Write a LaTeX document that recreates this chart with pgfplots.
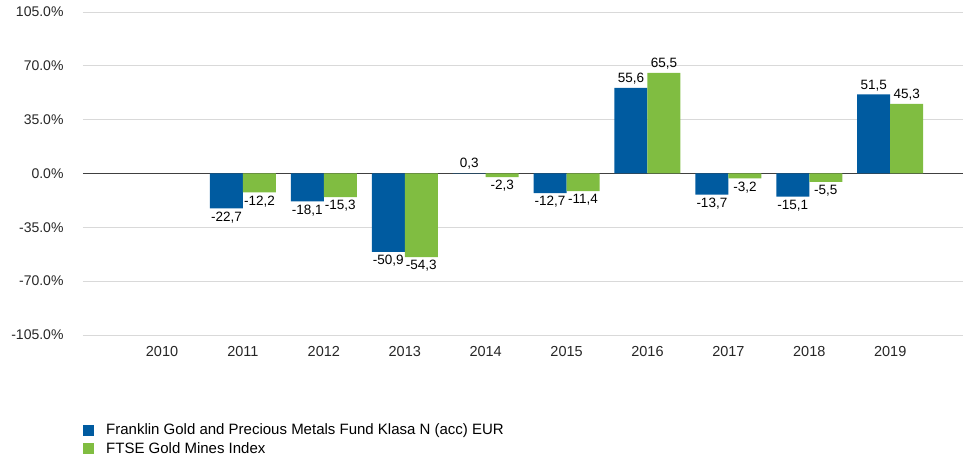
\documentclass[border=0pt]{standalone}
\usepackage{pgfplots}
\pgfplotsset{compat=1.18}
\usepackage{fontspec}
\setmainfont{Liberation Sans}
\definecolor{fblue}{RGB}{0,91,160}
\definecolor{fgreen}{RGB}{128,189,65}
\definecolor{gridgray}{RGB}{217,217,217}
\definecolor{zerogray}{RGB}{64,64,64}
\begin{document}
\begin{tikzpicture}
\begin{axis}[
  name=ax,
  scale only axis, width=880pt, height=323pt,
  ybar=0pt, bar width=33pt,
  xmin=-0.977, xmax=9.9,
  ymin=-105, ymax=105,
  xtick={0,...,9},
  xticklabels={2010,2011,2012,2013,2014,2015,2016,2017,2018,2019},
  ytick={-105,-70,-35,0,35,70,105},
  yticklabel={\pgfmathprintnumber[fixed,fixed zerofill,precision=1]{\tick}\%},
  /pgf/number format/assume math mode=true,
  ymajorgrids, grid style={gridgray, line width=0.8pt},
  axis line style={draw=none}, major tick length=0pt,
  tick label style={font=\fontsize{14}{16}\selectfont, text=black!85},
  xticklabel style={yshift=-8pt, font=\fontsize{14.5}{16}\selectfont},
  yticklabel style={xshift=-16pt},
  extra y ticks={0}, extra y tick labels={},
  extra y tick style={grid style={zerogray, line width=1pt}},
  nodes near coords={\pgfmathprintnumber[fixed,precision=1,use comma]{\pgfplotspointmeta}},
  every node near coord/.append style={font=\fontsize{13.5}{15}\selectfont, text=black},
  legend style={at={(0,-0.262)}, anchor=north west, draw=none, fill=none,
    font=\fontsize{15}{17}\selectfont, row sep=2.5pt, inner xsep=0pt,
    /tikz/every odd column/.append style={column sep=10pt},
    /tikz/every even column/.append style={column sep=0pt}},
  legend cell align=left,
  legend image code/.code={\fill[#1] (0pt,-5.5pt) rectangle (11pt,5.5pt);},
]
\addplot[fill=fblue, draw=none] coordinates {
 (1,-22.7) (2,-18.1) (3,-50.9) (4,0.3) (5,-12.7) (6,55.6) (7,-13.7) (8,-15.1) (9,51.5)};
\addplot[fill=fgreen, draw=none] coordinates {
 (1,-12.2) (2,-15.3) (3,-54.3) (4,-2.3) (5,-11.4) (6,65.5) (7,-3.2) (8,-5.5) (9,45.3)};
\legend{Franklin Gold and Precious Metals Fund Klasa N (acc) EUR, FTSE Gold Mines Index}
\end{axis}
\pgfresetboundingbox
\path[use as bounding box] ([xshift=-83pt,yshift=-125pt]ax.south west) rectangle ++(963pt,460pt);
\end{tikzpicture}
\end{document}
